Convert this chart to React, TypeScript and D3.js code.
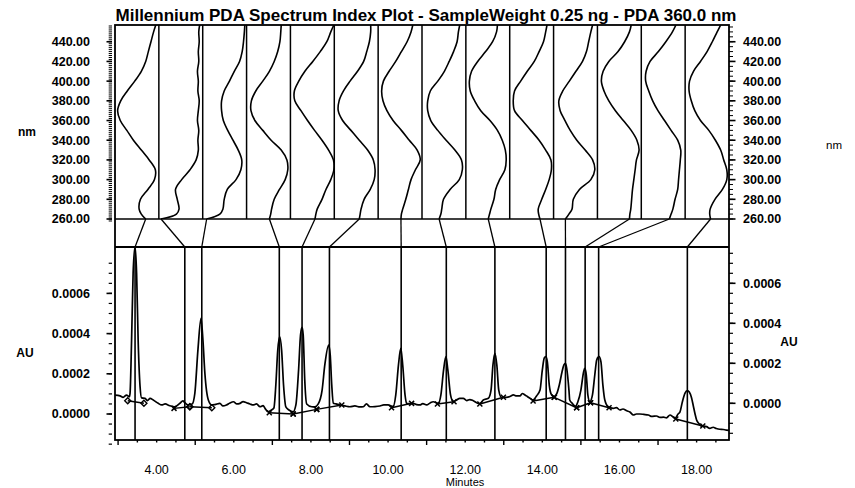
import React, { useEffect, useRef } from 'react';
import * as d3 from 'd3';

const TITLE = 'Millennium PDA Spectrum Index Plot - SampleWeight 0.25 ng - PDA 360.0 nm';

// retention times (minutes) of the integrated peaks
const peakTimes = [3.44, 4.73, 5.17, 7.18, 7.77, 8.48, 10.34, 11.51, 12.77, 14.1, 14.6, 15.11, 15.46, 17.76];

// integration baseline ends, [minutes, µAU]
const peakStarts: [number, number][] = [
  [3.25, 66], [4.45, 28], [4.86, 36], [6.92, 6], [7.54, 0], [8.15, 23], [10.09, 31],
  [11.28, 50], [12.38, 50], [13.76, 65], [14.31, 83], [14.89, 31], [15.25, 56], [17.46, -25],
];
const peakEnds: [number, number][] = [
  [3.67, 53], [4.86, 36], [5.43, 31], [7.54, 0], [8.15, 23], [8.8, 45], [10.61, 53],
  [11.71, 61], [12.99, 83], [14.31, 83], [14.89, 31], [15.25, 56], [15.73, 31], [18.16, -60],
];
const startMarks = ['d', 'x', 'd', 'x', 'x', 'x', 'x', 'x', 'x', 'x', 'x', 'x', 'x', 'x'];
const endMarks = ['d', 'd', 'd', 'x', 'x', 'x', 'x', 'x', 'x', 'x', 'x', 'x', 'x', 'x'];

// chromatogram at 360 nm, [minutes, µAU]
const chromatogram: [number, number][] = [
  [2.92, 94], [3.05, 90], [3.13, 83], [3.22, 94], [3.29, 86], [3.31, 103], [3.35, 368], [3.39, 701],
  [3.44, 832], [3.48, 701], [3.52, 368], [3.57, 136], [3.61, 80], [3.7, 78], [3.76, 67], [3.83, 78],
  [3.91, 70], [4.04, 53], [4.13, 45], [4.22, 50], [4.34, 41], [4.47, 36], [4.6, 53], [4.68, 65],
  [4.73, 56], [4.81, 45], [4.92, 50], [4.99, 103], [5.07, 318], [5.15, 476], [5.2, 368], [5.25, 204],
  [5.34, 70], [5.43, 45], [5.51, 47], [5.64, 53], [5.72, 40], [5.81, 45], [5.9, 55], [5.99, 61],
  [6.08, 50], [6.16, 53], [6.24, 62], [6.33, 56], [6.42, 50], [6.5, 45], [6.59, 50], [6.68, 36],
  [6.76, 42], [6.81, 28], [6.89, 11], [6.98, 20], [7.04, 30], [7.09, 144], [7.14, 318], [7.19, 385],
  [7.24, 318], [7.29, 144], [7.35, 35], [7.43, 20], [7.54, 11], [7.61, 45], [7.68, 219], [7.73, 393],
  [7.77, 431], [7.8, 393], [7.84, 169], [7.89, 50], [8.02, 36], [8.1, 35], [8.19, 50], [8.29, 119],
  [8.36, 244], [8.46, 343], [8.5, 294], [8.54, 144], [8.58, 53], [8.65, 50], [8.75, 45], [8.88, 40],
  [9.01, 36], [9.14, 40], [9.27, 35], [9.36, 36], [9.44, 50], [9.53, 36], [9.66, 37], [9.79, 40],
  [9.89, 45], [10.0, 45], [10.13, 36], [10.2, 95], [10.27, 244], [10.33, 327], [10.38, 244], [10.44, 95],
  [10.48, 53], [10.57, 51], [10.65, 53], [10.74, 47], [10.83, 45], [10.9, 52], [11.0, 45], [11.09, 55],
  [11.17, 61], [11.3, 53], [11.37, 95], [11.44, 219], [11.5, 285], [11.55, 219], [11.62, 95], [11.69, 61],
  [11.78, 70], [11.86, 78], [11.95, 78], [12.04, 67], [12.12, 72], [12.21, 66], [12.34, 53], [12.38, 52],
  [12.47, 70], [12.6, 78], [12.67, 119], [12.72, 244], [12.77, 302], [12.82, 244], [12.87, 119], [12.94, 83],
  [13.07, 83], [13.16, 87], [13.25, 95], [13.33, 90], [13.42, 90], [13.48, 102], [13.55, 95], [13.61, 87],
  [13.68, 78], [13.76, 70], [13.85, 90], [13.94, 119], [14.0, 219], [14.05, 279], [14.09, 285], [14.13, 259],
  [14.18, 144], [14.24, 95], [14.3, 86], [14.38, 104], [14.44, 144], [14.51, 209], [14.56, 244], [14.6, 252],
  [14.63, 229], [14.69, 119], [14.71, 70], [14.79, 50], [14.85, 36], [14.92, 60], [15.0, 119], [15.07, 209],
  [15.1, 227], [15.14, 194], [15.18, 95], [15.23, 61], [15.3, 95], [15.36, 194], [15.41, 269], [15.47, 285],
  [15.52, 259], [15.57, 144], [15.62, 70], [15.71, 36], [15.84, 28], [15.92, 32], [16.01, 20], [16.09, 25],
  [16.19, 16], [16.27, 10], [16.36, -5], [16.44, 0], [16.53, 0], [16.63, -2], [16.75, -5], [16.84, -12],
  [16.96, -10], [17.05, -17], [17.14, -16], [17.22, -19], [17.31, -5], [17.39, -15], [17.44, -21], [17.52, 0],
  [17.57, 11], [17.63, 60], [17.7, 104], [17.76, 116], [17.81, 109], [17.87, 80], [17.91, 45], [17.96, 0],
  [18.0, -30], [18.06, -47], [18.13, -60], [18.19, -60], [18.26, -63], [18.34, -72], [18.43, -66], [18.51, -72],
  [18.6, -76], [18.69, -77], [18.77, -80], [18.84, -81],
];

// apex spectra, normalised response per wavelength, one per peak
const wavelengths = [260, 265, 270, 280, 290, 300, 310, 320, 330, 340, 350, 360, 370, 380, 390, 400, 410, 420, 430, 440, 450, 457];
const spectra = [
  [0.7, 0.6, 0.55, 0.58, 0.75, 0.9, 0.92, 0.78, 0.6, 0.42, 0.27, 0.12, 0.06, 0.13, 0.28, 0.45, 0.6, 0.7, 0.76, 0.82, 0.88, 0.93],
  [0.05, 0.4, 0.46, 0.42, 0.38, 0.52, 0.71, 0.85, 0.9, 0.89, 0.91, 0.88, 0.9, 0.92, 0.89, 0.9, 0.88, 0.91, 0.9, 0.92, 0.91, 0.93],
  [0.09, 0.39, 0.46, 0.49, 0.56, 0.76, 0.87, 0.89, 0.81, 0.69, 0.57, 0.47, 0.43, 0.43, 0.49, 0.61, 0.72, 0.84, 0.9, 0.93, 0.95, 0.96],
  [0.52, 0.55, 0.57, 0.63, 0.75, 0.88, 0.94, 0.92, 0.79, 0.56, 0.37, 0.19, 0.1, 0.11, 0.21, 0.37, 0.52, 0.63, 0.71, 0.76, 0.78, 0.79],
  [0.56, 0.58, 0.61, 0.72, 0.81, 0.92, 0.99, 0.98, 0.87, 0.72, 0.55, 0.39, 0.24, 0.1, 0.09, 0.19, 0.33, 0.51, 0.68, 0.83, 0.92, 0.99],
  [0.57, 0.59, 0.61, 0.68, 0.82, 0.91, 0.93, 0.89, 0.76, 0.57, 0.38, 0.19, 0.09, 0.11, 0.21, 0.36, 0.53, 0.67, 0.74, 0.8, 0.83, 0.83],
  [0.52, 0.53, 0.56, 0.63, 0.69, 0.75, 0.85, 0.96, 0.89, 0.71, 0.53, 0.34, 0.2, 0.11, 0.08, 0.12, 0.25, 0.4, 0.53, 0.66, 0.75, 0.79],
  [0.39, 0.43, 0.45, 0.49, 0.64, 0.85, 0.92, 0.9, 0.75, 0.55, 0.36, 0.2, 0.13, 0.13, 0.19, 0.36, 0.51, 0.62, 0.72, 0.8, 0.83, 0.86],
  [0.51, 0.54, 0.57, 0.64, 0.68, 0.77, 0.89, 0.92, 0.9, 0.83, 0.72, 0.55, 0.34, 0.2, 0.1, 0.08, 0.13, 0.27, 0.45, 0.61, 0.7, 0.72],
  [0.69, 0.66, 0.65, 0.73, 0.82, 0.9, 0.95, 0.94, 0.82, 0.67, 0.48, 0.29, 0.11, 0.08, 0.11, 0.25, 0.4, 0.56, 0.67, 0.77, 0.82, 0.85],
  [0.27, 0.35, 0.42, 0.45, 0.59, 0.85, 0.94, 0.89, 0.72, 0.53, 0.38, 0.26, 0.15, 0.12, 0.21, 0.36, 0.51, 0.66, 0.75, 0.8, 0.85, 0.89],
  [0.73, 0.74, 0.76, 0.78, 0.8, 0.83, 0.86, 0.89, 0.95, 0.9, 0.77, 0.59, 0.41, 0.26, 0.15, 0.09, 0.13, 0.26, 0.47, 0.62, 0.73, 0.77],
  [0.64, 0.68, 0.72, 0.77, 0.83, 0.85, 0.87, 0.89, 0.9, 0.83, 0.68, 0.53, 0.38, 0.26, 0.17, 0.1, 0.11, 0.2, 0.39, 0.56, 0.71, 0.79],
  [0.58, 0.56, 0.57, 0.68, 0.85, 0.95, 0.95, 0.88, 0.81, 0.69, 0.54, 0.35, 0.22, 0.14, 0.09, 0.1, 0.19, 0.35, 0.5, 0.62, 0.73, 0.81],
];

const nmTicks = [260, 280, 300, 320, 340, 360, 380, 400, 420, 440];
const auTicks = [0, 200, 400, 600]; // µAU
const minuteLabels = [4, 6, 8, 10, 12, 14, 16, 18];

const W = 855;
const H = 488;
const L = 115, R = 729, T = 25, SPEC_B = 219, CHROM_T = 247, B = 440;
const FONT = "'Liberation Sans', Arial, Helvetica, sans-serif";

const App: React.FC = () => {
  const ref = useRef<SVGSVGElement | null>(null);

  useEffect(() => {
    const svg = d3.select(ref.current);
    svg.selectAll('*').remove();
    svg.attr('font-family', FONT);

    const x = d3.scaleLinear().domain([2.92, 18.84]).range([L, R]);
    const yL = d3.scaleLinear().domain([0, 600]).range([414, 293.4]);
    const yR = d3.scaleLinear().domain([0, 600]).range([403.3, 283.3]);
    const yNm = d3.scaleLinear().domain([260, 457]).range([SPEC_B, T]);
    const cellW = (R - L) / spectra.length;

    const defs = svg.append('defs');
    defs.append('clipPath').attr('id', 'specClip')
      .append('rect').attr('x', L).attr('y', T).attr('width', R - L).attr('height', SPEC_B - T);
    defs.append('clipPath').attr('id', 'chromClip')
      .append('rect').attr('x', L).attr('y', CHROM_T).attr('width', R - L).attr('height', B - CHROM_T);

    const ln = (g: any, x1: number, y1: number, x2: number, y2: number, w = 1.5) =>
      g.append('line').attr('x1', x1).attr('y1', y1).attr('x2', x2).attr('y2', y2)
        .attr('stroke', '#000').attr('stroke-width', w);

    // title
    svg.append('text')
      .attr('x', 426).attr('y', 21).attr('text-anchor', 'middle')
      .attr('font-weight', 'bold').attr('font-size', 17)
      .text(TITLE);

    // spectra + cell dividers
    const specG = svg.append('g').attr('clip-path', 'url(#specClip)');
    spectra.forEach((s, i) => {
      const sx = d3.scaleLinear().domain([0, 1]).range([L + i * cellW, L + (i + 1) * cellW]);
      const line = d3.line<number>()
        .x((d) => sx(d))
        .y((_, j) => yNm(wavelengths[j]))
        .curve(d3.curveCatmullRom);
      specG.append('path').attr('d', line(s)).attr('fill', 'none')
        .attr('stroke', '#000').attr('stroke-width', 1.6);
      if (i > 0) ln(svg, sx(0), T, sx(0), SPEC_B, 1.5);
      // connector to the peak
      ln(svg, sx(s[0]), SPEC_B, x(peakTimes[i]), CHROM_T, 1.3);
    });

    // peak drop lines
    peakTimes.forEach((t) => ln(svg, x(t), CHROM_T, x(t), B, 1.6));

    // chromatogram
    const chromG = svg.append('g').attr('clip-path', 'url(#chromClip)');
    const trace = d3.line<[number, number]>()
      .x((d) => x(d[0]))
      .y((d) => yL(d[1]))
      .curve(d3.curveMonotoneX);
    chromG.append('path').attr('d', trace(chromatogram)).attr('fill', 'none')
      .attr('stroke', '#000').attr('stroke-width', 1.7).attr('stroke-linejoin', 'round');

    // integration baselines and marks
    const mark = (t: number, v: number, kind: string) => {
      const px = x(t), py = yL(v);
      if (kind === 'x') {
        ln(chromG, px - 2.5, py - 2.5, px + 2.5, py + 2.5, 1.5);
        ln(chromG, px - 2.5, py + 2.5, px + 2.5, py - 2.5, 1.5);
      } else {
        chromG.append('path')
          .attr('d', `M${px},${py - 3}L${px + 3},${py}L${px},${py + 3}L${px - 3},${py}Z`)
          .attr('fill', 'none').attr('stroke', '#000').attr('stroke-width', 1.4);
      }
    };
    peakStarts.forEach((s, i) => {
      const e = peakEnds[i];
      ln(chromG, x(s[0]), yL(s[1]), x(e[0]), yL(e[1]), 1.5);
      mark(s[0], s[1], startMarks[i]);
      mark(e[0], e[1], endMarks[i]);
    });

    // frame
    svg.append('rect').attr('x', L).attr('y', T).attr('width', R - L).attr('height', B - T)
      .attr('fill', 'none').attr('stroke', '#000').attr('stroke-width', 1.8);
    ln(svg, L, SPEC_B, R, SPEC_B, 1.6);
    ln(svg, L, CHROM_T, R, CHROM_T, 1.8);

    const fmt2 = d3.format('.2f');
    const label = (tx: number, ty: number, s: string, anchor: string, size: number, bold: boolean) =>
      svg.append('text').attr('x', tx).attr('y', ty).attr('dy', '0.35em')
        .attr('text-anchor', anchor).attr('font-size', size)
        .attr('font-weight', bold ? 'bold' : 'normal').text(s);

    // wavelength axes
    d3.range(258, 457, 2).forEach((v) => ln(svg, 108.7, yNm(v), 112, yNm(v), 1));
    d3.range(260, 457, 5).forEach((v) => ln(svg, R, yNm(v), R + 4, yNm(v), 1));
    nmTicks.forEach((v) => {
      ln(svg, 106.5, yNm(v), 112, yNm(v), 1.6);
      ln(svg, R, yNm(v), R + 6.5, yNm(v), 1.6);
      label(90, yNm(v), fmt2(v), 'end', 12.5, true);
      label(743, yNm(v), fmt2(v), 'start', 12.5, true);
    });
    label(27, 132, 'nm', 'middle', 12, true);
    label(834, 145, 'nm', 'middle', 11.5, false);

    // absorbance axes
    const auFmt = (v: number) => (v / 1e6).toFixed(4);
    d3.range(-150, 751, 50).forEach((v) => {
      ln(svg, 108.7, yL(v), 112, yL(v), 1.2);
      ln(svg, R, yR(v), R + 4, yR(v), 1.2);
    });
    auTicks.forEach((v) => {
      ln(svg, 106.5, yL(v), 112, yL(v), 1.6);
      ln(svg, R, yR(v), R + 6.5, yR(v), 1.6);
      label(90, yL(v), auFmt(v), 'end', 12.5, true);
      label(743, yR(v), auFmt(v), 'start', 12.5, true);
    });
    label(25, 353, 'AU', 'middle', 12, true);
    label(789, 342, 'AU', 'middle', 12, true);

    // time axis
    d3.range(3, 18.6, 0.5).forEach((t) => {
      const major = Math.abs(t % 2 - 1) < 1e-6;
      ln(svg, x(t), B, x(t), B + (major ? 5 : 2.5), 1.4);
    });
    minuteLabels.forEach((t) => {
      svg.append('text').attr('x', x(t)).attr('y', 474).attr('text-anchor', 'middle')
        .attr('font-size', 12.5).text(fmt2(t));
    });
    svg.append('text').attr('x', 465).attr('y', 486).attr('text-anchor', 'middle')
      .attr('font-size', 11).text('Minutes');
  }, []);

  return (
    <svg
      ref={ref}
      width={W}
      height={H}
      style={{ position: 'absolute', left: 0, top: 0, display: 'block', background: '#fff' }}
    />
  );
};

export default App;
